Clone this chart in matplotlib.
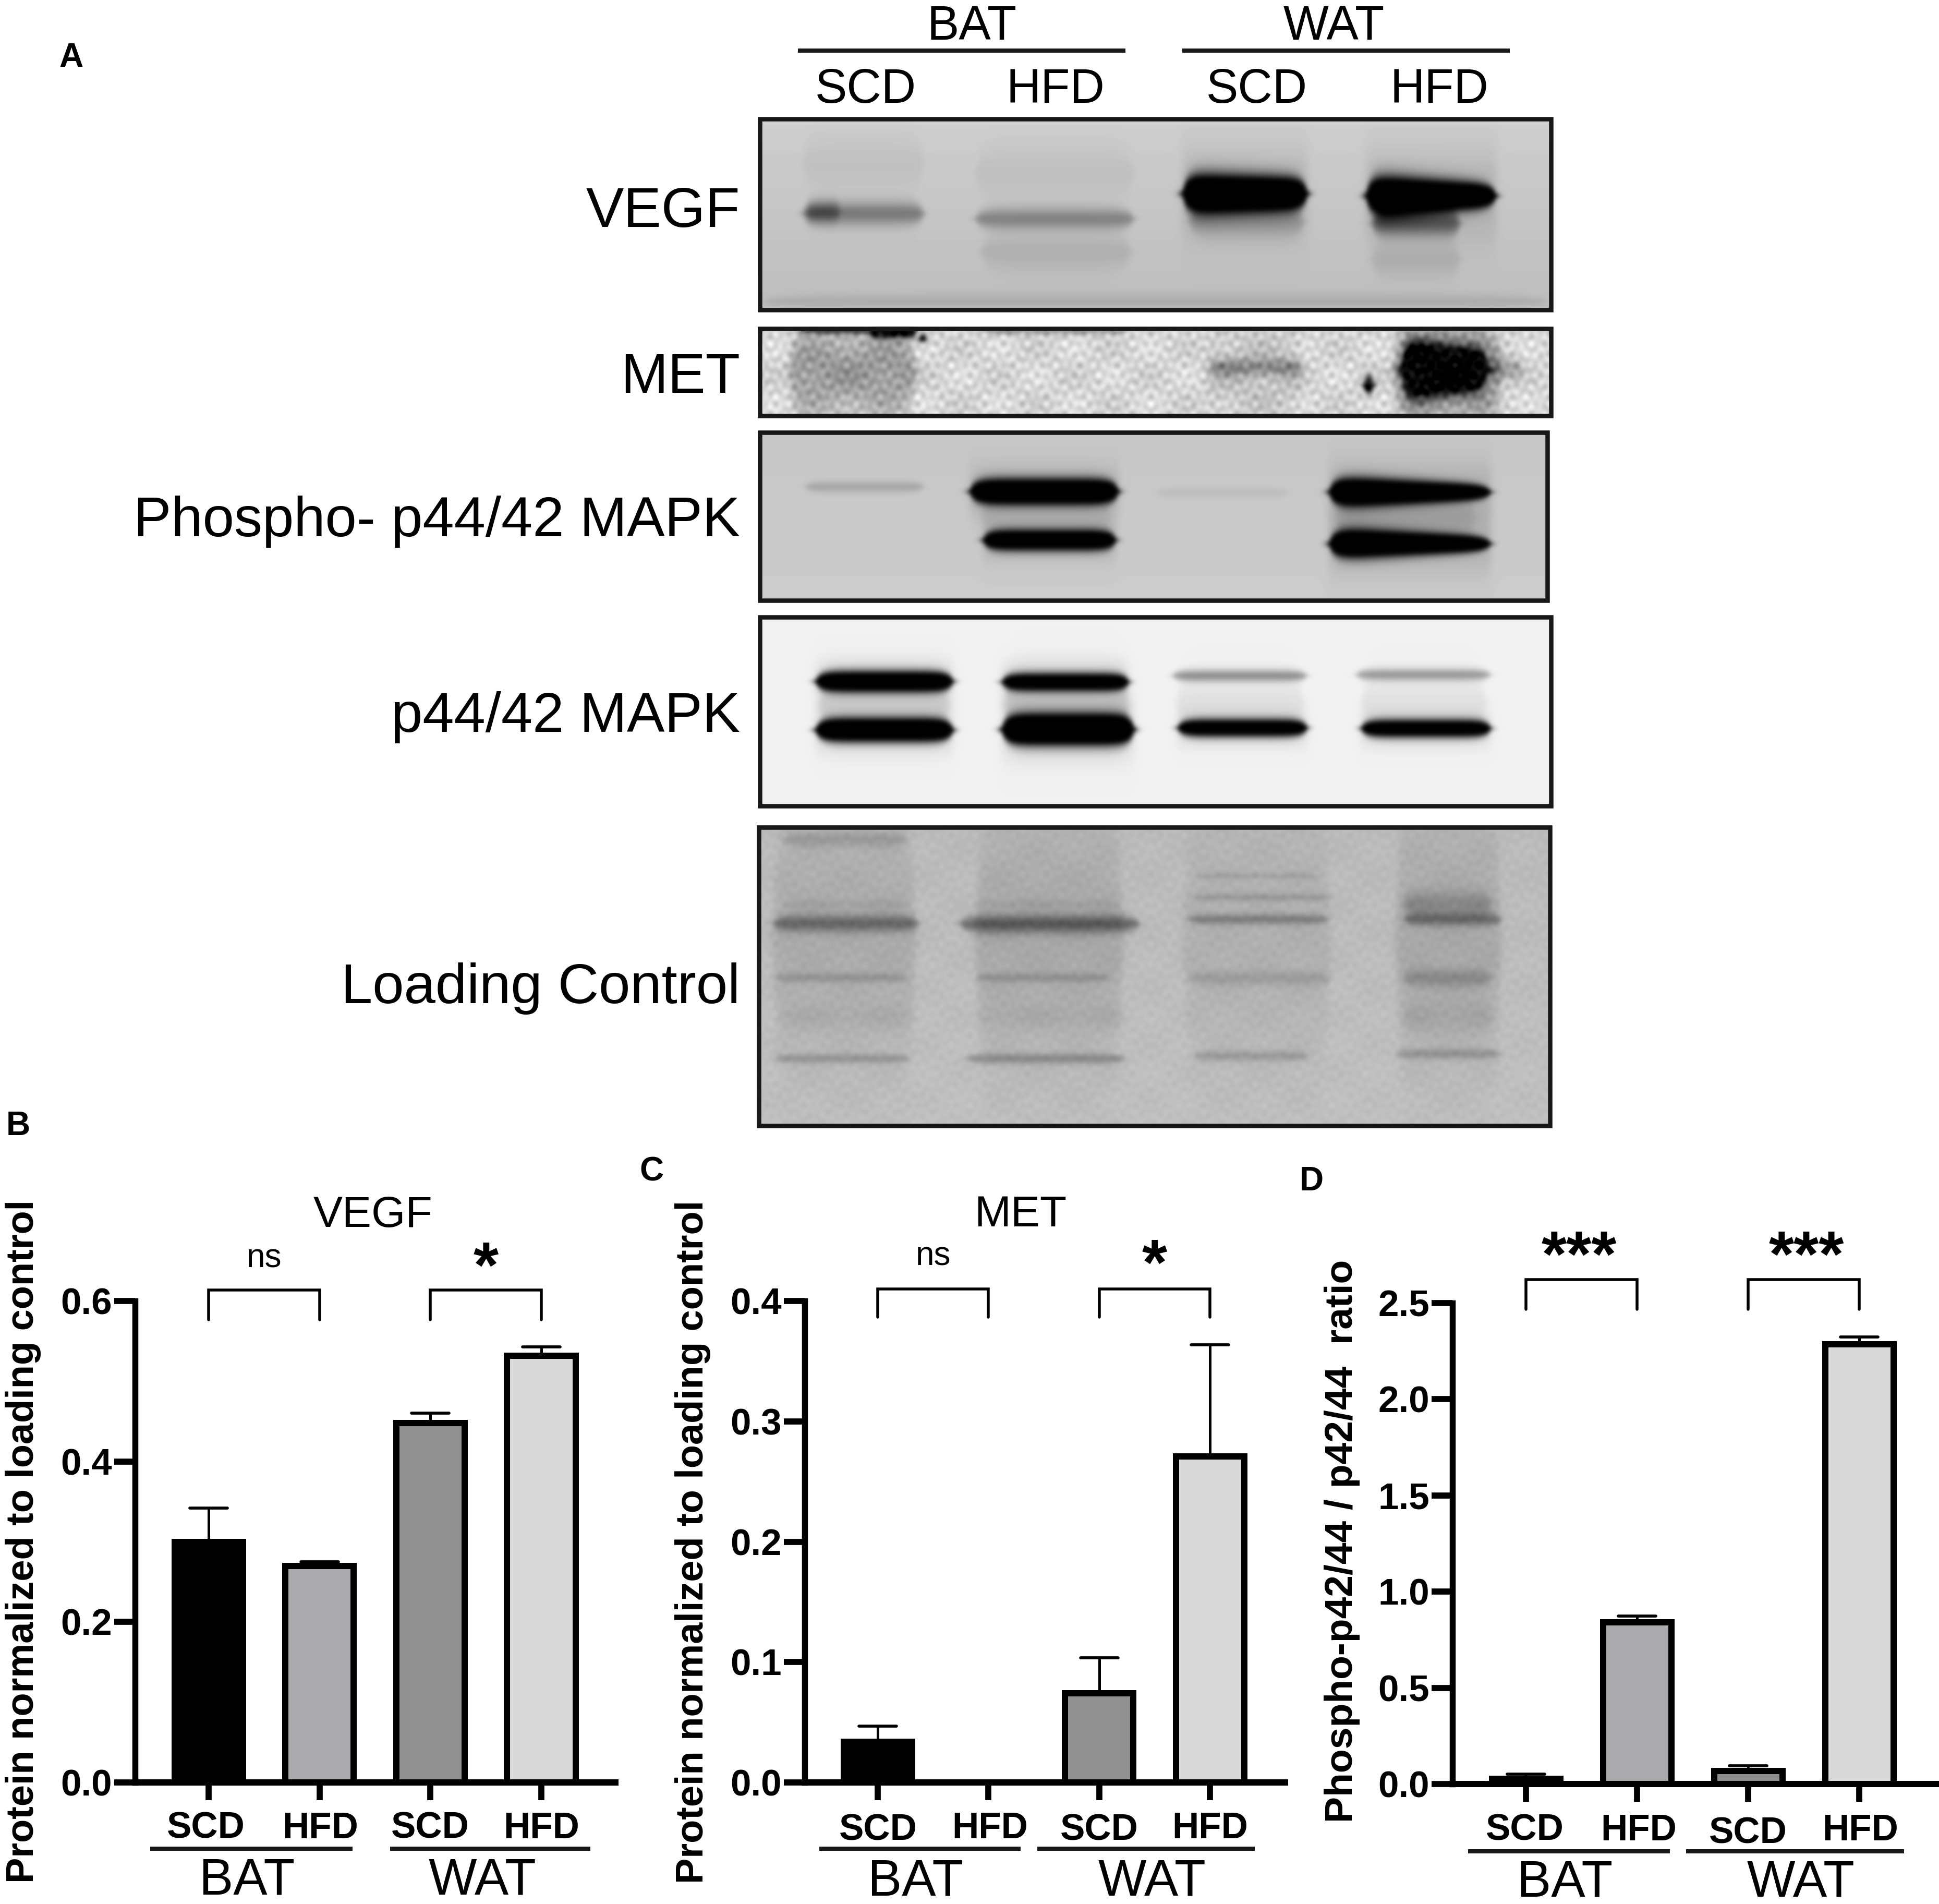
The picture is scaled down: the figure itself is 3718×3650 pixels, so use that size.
"""Blot panel plus three bar charts (VEGF, MET, phospho ratio)."""
import matplotlib

matplotlib.use("Agg")
import matplotlib.pyplot as plt
import numpy as np
from matplotlib.patches import Rectangle

W, H = 3718, 3650
DPI = 100
plt.rcParams["font.family"] = ["Liberation Sans", "DejaVu Sans"]

CATEGORIES = ["SCD", "HFD", "SCD", "HFD"]
BAR_COLORS = ["#000000", "#ababad", "#909090", "#d9d9d9"]

VEGF_VALUES = [0.300, 0.270, 0.448, 0.532]
VEGF_UPPER = [0.342, 0.275, 0.460, 0.543]
VEGF_TICKS = [0.0, 0.2, 0.4, 0.6]

MET_VALUES = [0.0338, 0.0, 0.074, 0.271]
MET_UPPER = [0.0468, 0.0, 0.1035, 0.3635]
MET_TICKS = [0.0, 0.1, 0.2, 0.3, 0.4]

RATIO_VALUES = [0.027, 0.84, 0.068, 2.285]
RATIO_UPPER = [0.0515, 0.8725, 0.095, 2.325]
RATIO_TICKS = [0.0, 0.5, 1.0, 1.5, 2.0, 2.5]

# blot bands: x0, x1, y centre, half height, strength, optional taper (figure pixels)
VEGF_BANDS = [
    (1538, 1772, 409, 22, 0.30), (1545, 1610, 405, 20, 0.22),
    (1869, 2175, 419, 20, 0.26), (1880, 2170, 482, 35, 0.07),
    (1538, 1772, 312, 50, 0.04), (1869, 2175, 330, 50, 0.04),
    (2267, 2507, 371, 34, 1.70, 0.2), (2280, 2500, 425, 28, 0.14),
    (2619, 2869, 375, 35, 1.70, 0.45), (2630, 2800, 428, 24, 0.36),
    (2630, 2800, 497, 32, 0.07), (1465, 2965, 578, 14, 0.07),
]
MET_BANDS = [
    (1512, 1757, 711, 85, 0.24), (1665, 1757, 636, 8, 1.6), (1530, 1665, 634, 5, 0.6),
    (1762, 1776, 649, 6, 1.6), (1879, 2165, 634, 6, 0.30),
    (2318, 2497, 704, 16, 0.26), (2310, 2500, 712, 85, 0.08),
    (2687, 2853, 708, 42, 2.40, 0.35), (2670, 2880, 712, 85, 0.27), (2850, 2920, 706, 22, 0.20),
    (2616, 2632, 738, 12, 2.4),
]
PHOSPHO_BANDS = [
    (1543, 1772, 933, 10, 0.14), (2216, 2471, 945, 9, 0.05),
    (1859, 2145, 942, 21, 1.70), (1884, 2140, 1035, 17, 1.50), (1880, 2130, 990, 40, 0.05),
    (2548, 2859, 943, 26, 1.70, 0.55), (2548, 2859, 1042, 26, 1.70, 0.55), (2560, 2830, 992, 40, 0.07),
]
MAPK_BANDS = [
    (1563, 1828, 1306, 17, 1.8), (1563, 1828, 1399, 19, 2.0),
    (1920, 2165, 1307, 15, 1.5), (1920, 2175, 1398, 25, 2.2),
    (2247, 2507, 1295, 11, 0.38), (2257, 2507, 1395, 15, 1.5),
    (2599, 2859, 1293, 11, 0.34), (2609, 2859, 1396, 15, 1.5),
    (1570, 1820, 1352, 60, 0.10), (1925, 2165, 1352, 70, 0.12),
    (2255, 2500, 1345, 55, 0.06), (2610, 2850, 1345, 55, 0.06),
]
LOADING_BANDS = [
    (1480, 1757, 1800, 230, 0.07), (1869, 2155, 1800, 230, 0.08),
    (2267, 2553, 1800, 230, 0.05), (2675, 2879, 1800, 230, 0.08),
    (1482, 1762, 1770, 16, 0.28), (1839, 2185, 1771, 17, 0.33),
    (2277, 2547, 1762, 9, 0.22), (2690, 2879, 1762, 12, 0.25),
    (1485, 1740, 1874, 8, 0.12), (1869, 2130, 1874, 8, 0.12),
    (2277, 2553, 1875, 13, 0.09), (2690, 2860, 1875, 17, 0.14),
    (1482, 1745, 2029, 8, 0.16), (1850, 2160, 2029, 9, 0.20),
    (2287, 2510, 2024, 9, 0.14), (2675, 2880, 2020, 9, 0.16),
    (1500, 1740, 1609, 14, 0.10), (2287, 2553, 1720, 6, 0.12), (2287, 2530, 1679, 4, 0.10),
    (2690, 2860, 1733, 24, 0.14), (1500, 1740, 1733, 7, 0.05), (1869, 2140, 1733, 7, 0.05),
    (1490, 1760, 1950, 22, 0.03), (1869, 2160, 1950, 22, 0.03), (2690, 2860, 1950, 32, 0.05),
]

# label, x0, y0, x1, y1, bg top, bg bottom, bands, mottle
BLOTS = [
    ("VEGF", 1453, 224, 2978, 598, 0.81, 0.74, VEGF_BANDS, 0.0),
    ("MET", 1453, 626, 2978, 801, 0.84, 0.84, MET_BANDS, 0.04),
    ("Phospho- p44/42 MAPK", 1453, 825, 2971, 1155, 0.78, 0.80, PHOSPHO_BANDS, 0.0),
    ("p44/42 MAPK", 1453, 1179, 2978, 1549, 0.95, 0.95, MAPK_BANDS, 0.0),
    ("Loading Control", 1451, 1582, 2976, 2162, 0.73, 0.75, LOADING_BANDS, 0.008),
]
BLOT_LABEL_BASELINE = [435, 753, 1028, 1403, 1923]


def px(n):
    return n * 72 / DPI


def blur(img, sigma):
    r = int(3 * sigma)
    kernel = np.exp(-0.5 * (np.arange(-r, r + 1) / sigma) ** 2)
    kernel /= kernel.sum()
    padded = np.pad(img, r, mode="edge")
    padded = np.apply_along_axis(lambda v: np.convolve(v, kernel, mode="same"), 0, padded)
    padded = np.apply_along_axis(lambda v: np.convolve(v, kernel, mode="same"), 1, padded)
    return padded[r:-r, r:-r]


def blot_image(x0, y0, x1, y1, top, bottom, bands, mottle):
    xx, yy = np.meshgrid(np.arange(x0, x1), np.arange(y0, y1))
    img = top + (bottom - top) * (yy - y0) / (y1 - y0)
    for band in bands:
        bx0, bx1, yc, hh, strength = band[:5]
        taper = band[5] if len(band) > 5 else 0.0
        u = (xx - (bx0 + bx1) / 2) / ((bx1 - bx0) / 2)
        hh_x = hh * np.sqrt(np.clip(1 - np.abs(u) ** 8, 0.03, 1)) * (1 - taper * (np.clip(u, -1, 1) + 1) / 2)
        fx = 0.5 * (np.tanh((xx - bx0) / 8) - np.tanh((xx - bx1) / 8))
        img = img - strength * fx * np.exp(-((yy - yc) / hh_x) ** 2)
        if strength > 1:
            img = img - 0.10 * fx * np.exp(-((yy - yc) / (hh * 2.4)) ** 2)
    img = np.clip(img, 0, 1)
    img = blur(img, 4)
    if mottle:
        wave = (np.sin(xx / 5.3) * np.sin(yy / 4.7) + np.sin(xx / 2.9 + 1) * np.sin(yy / 6.1)
                + np.sin(xx / 11.0 + 2) * np.sin(yy / 3.3) + np.sin(xx / 23.0) * np.sin(yy / 17.0))
        img = img + mottle * wave
    return np.clip(img, 0, 1)


def draw_blots(ov):
    for (label, x0, y0, x1, y1, top, bottom, bands, mottle), base in zip(BLOTS, BLOT_LABEL_BASELINE):
        img = blot_image(x0, y0, x1, y1, top, bottom, bands, mottle)
        ov.imshow(img, cmap="gray", vmin=0, vmax=1, extent=(x0, x1, y1, y0), aspect="auto", interpolation="bilinear")
        ov.add_patch(Rectangle((x0 + 4, y0 + 4), x1 - x0 - 8, y1 - y0 - 8, fill=False, edgecolor="#181818", linewidth=px(8.5)))
        ov.text(1419, base, label, ha="right", va="baseline", fontsize=px(108.5), color="#000000")

    for name, cx, lx0, lx1 in [("BAT", 1864, 1530, 2158), ("WAT", 2558, 2267, 2895)]:
        ov.text(cx, 76, name, ha="center", va="baseline", fontsize=px(92))
        ov.plot([lx0, lx1], [97, 97], color="#181818", linewidth=px(8), solid_capstyle="butt")
    for name, cx in zip(CATEGORIES, [1660, 2024, 2410, 2760]):
        ov.text(cx, 197, name, ha="center", va="baseline", fontsize=px(92))


def draw_bars(fig, ov, axis_x, right, y0, ytop, centers, values, upper, ticks, ylabel, ylabel_x, ylabel_y, ylabel_size,
              bracket_top, bracket_bottom, marks, mark_dx, mark_y, group_y, groups, label_x, label_base):
    ax = fig.add_axes([axis_x / W, 1 - y0 / H, (right - axis_x) / W, (y0 - ytop) / H])
    ax.patch.set_alpha(0)
    step = (centers[-1] - centers[0]) / 3
    ax.set_xlim((axis_x - centers[0]) / step, (right - centers[0]) / step)
    ax.set_ylim(ticks[0], ticks[-1])
    pos = np.arange(len(values))
    for i, (v, u) in enumerate(zip(values, upper)):
        if v == 0:
            continue
        hw = 36 / step
        ax.plot([i, i], [v, u], color="black", linewidth=px(5), zorder=1, clip_on=False)
        ax.plot([i - hw, i + hw], [u, u], color="black", linewidth=px(5.7), solid_capstyle="round", zorder=1, clip_on=False)
        ax.bar(i, v, width=131 / step, color=BAR_COLORS[i], edgecolor="black", linewidth=px(12), zorder=2)

    for spine in ("top", "right"):
        ax.spines[spine].set_visible(False)
    ax.spines["left"].set_linewidth(px(11.5))
    ax.spines["bottom"].set_linewidth(px(12))
    ax.spines["left"].set_zorder(5)
    ax.spines["bottom"].set_zorder(5)
    ax.set_yticks(ticks)
    ax.set_yticklabels([f"{t:.1f}" for t in ticks], fontsize=px(71), fontweight="bold")
    ax.tick_params(axis="y", length=px(40), width=px(11.7), pad=px(4))
    ax.set_xticks(pos)
    ax.set_xticklabels([])
    ax.tick_params(axis="x", length=px(34), width=px(11.7))

    # brackets and marks are placed by figure pixel height, converted to this axis
    to_val = lambda yy: (y0 - yy) / (y0 - ytop) * (ticks[-1] - ticks[0])
    for (a, b), mark, dx in zip([(0, 1), (2, 3)], marks, mark_dx):
        ax.plot([a, a, b, b], [to_val(bracket_bottom), to_val(bracket_top), to_val(bracket_top), to_val(bracket_bottom)],
                color="black", linewidth=px(5.5), clip_on=False, solid_joinstyle="miter", solid_capstyle="round")
        if mark == "ns":
            ax.text((a + b) / 2 + dx / step, to_val(mark_y), mark, ha="center", va="center", fontsize=px(64))
        else:
            ax.text((a + b) / 2 + dx / step, to_val(mark_y + 23), mark, ha="center", va="center", fontsize=px(124), fontweight="bold")

    for lx, name, base in zip(label_x, CATEGORIES, label_base):
        ov.text(lx, base, name, ha="center", va="baseline", fontsize=px(71), fontweight="bold")
    for name, cx, lx0, lx1, base in groups:
        ov.plot([lx0, lx1], [group_y, group_y], color="#181818", linewidth=px(8), solid_capstyle="butt")
        ov.text(cx, base, name, ha="center", va="baseline", fontsize=px(98))

    ov.text(ylabel_x, ylabel_y, ylabel, rotation=90, rotation_mode="anchor", ha="center", va="baseline",
            fontsize=px(ylabel_size), fontweight="bold")


def main():
    fig = plt.figure(figsize=(W / DPI, H / DPI), dpi=DPI, facecolor="white")
    ov = fig.add_axes([0, 0, 1, 1], zorder=10)
    ov.patch.set_alpha(0)

    draw_blots(ov)

    draw_bars(fig, ov, 259, 1180, 3417, 2494, [400, 612, 825, 1038], VEGF_VALUES, VEGF_UPPER, VEGF_TICKS,
              "Protein normalized to loading control", 64, 2955, 74,
              2473, 2530, ["ns", "*"], [0, 0], 2413, 3543.5,
              [("BAT", 474, 288, 676, 3632), ("WAT", 925, 748, 1132, 3632)],
              [395, 614, 825, 1038], [3524] * 4)
    ov.text(715, 2352, "VEGF", ha="center", va="baseline", fontsize=px(84))

    draw_bars(fig, ov, 1542.5, 2464, 3417, 2494, [1683, 1895, 2108, 2320], MET_VALUES, MET_UPPER, MET_TICKS,
              "Protein normalized to loading control", 1348, 2956, 74,
              2471, 2525, ["ns", "*"], [0, 0], 2408, 3544,
              [("BAT", 1756, 1571, 1957, 3633), ("WAT", 2209, 1989, 2406, 3633)],
              [1683.5, 1898, 2108, 2320], [3527, 3524, 3527, 3524])
    ov.text(1957, 2351, "MET", ha="center", va="baseline", fontsize=px(84))

    draw_bars(fig, ov, 2785, 3718, 3420, 2498, [2926, 3139, 3352, 3565], RATIO_VALUES, RATIO_UPPER, RATIO_TICKS,
              "Phospho-p42/44 / p42/44  ratio", 2593, 2954, 75,
              2453, 2510, ["***", "***"], [-5, 5], 2392, 3548.5,
              [("BAT", 3001, 2815, 3202, 3636), ("WAT", 3453, 3233, 3651, 3636)],
              [2924, 3142, 3352, 3567], [3528, 3528, 3533, 3528])

    for letter, x, y in [("A", 137, 111), ("B", 35, 2159), ("C", 1250, 2246), ("D", 2515, 2265)]:
        ov.text(x, y, letter, ha="center", va="center", fontsize=px(64), fontweight="bold")

    ov.set_xlim(0, W)
    ov.set_ylim(H, 0)
    ov.axis("off")
    fig.savefig("out.png", dpi=DPI, facecolor="white")
    plt.close(fig)


if __name__ == "__main__":
    main()
